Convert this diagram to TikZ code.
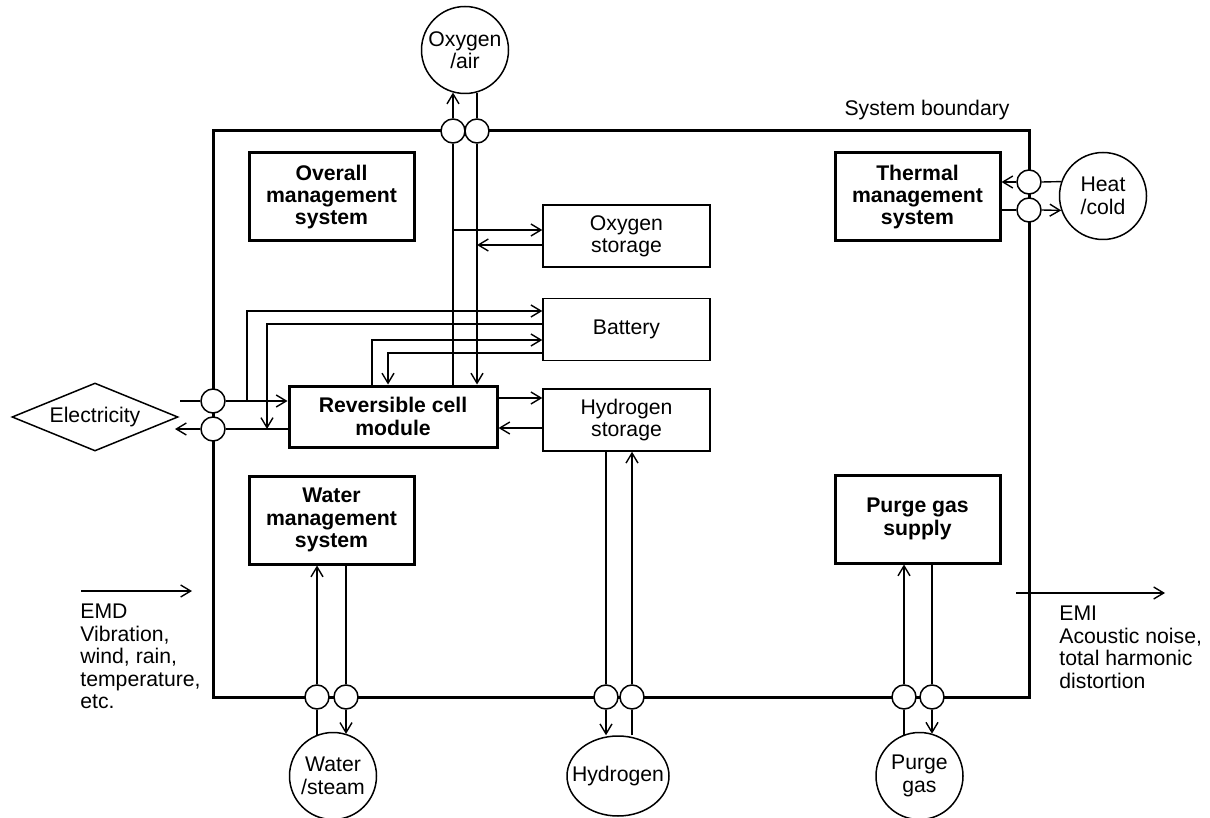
\documentclass[tikz,border=0pt]{standalone}
\usepackage{fontspec}
\setmainfont{Liberation Sans}
\usetikzlibrary{arrows.meta,positioning,shapes.geometric}

\begin{document}
\begin{tikzpicture}[
  x=0.5pt, y=-0.5pt,
  font=\fontsize{10.6}{11.2}\selectfont,
  box/.style={draw, line width=1.5pt, align=center, inner sep=2pt,
              font=\fontsize{10.6}{11.2}\selectfont\bfseries,
              minimum width=82.5pt, minimum height=44pt},
  store/.style={draw, line width=0.75pt, align=center,
                minimum width=83.5pt, minimum height=31pt},
  ext/.style={draw, circle, line width=0.75pt, align=center,
              inner sep=0pt, minimum size=43.5pt},
  port/.style={draw, circle, line width=0.75pt, fill=white,
               inner sep=0pt, minimum size=12pt},
  wire/.style={line width=0.7pt},
  arrow/.style={wire, -{Straight Barb[length=5pt,width=6pt]}}
]
\useasboundingbox (0,0) rectangle (1210,818);

% system boundary
\node[draw, line width=1.5pt, inner sep=0pt,
      minimum width=408pt, minimum height=283pt] (sys) at (621,414) {};
\node (sbl) at (927,110) {System boundary};

% blocks inside
\node[box] (oms) at (331.5,197) {Overall\\management\\system};
\node[box] (tms) at (917.5,197) {Thermal\\management\\system};
\node[box] (wms) at (331.5,520) {Water\\management\\system};
\node[box] (pgs) at (917.5,519) {Purge gas\\supply};
\node[box, minimum width=104pt, minimum height=30.5pt] (rcm) at (393,416.5)
  {Reversible cell\\module};

\node[store] (ostore) at (626.5,236) {Oxygen\\storage};
\node[store, below=15pt of ostore] (batt) {Battery};
\node[store, below=13.5pt of batt] (hstore) {Hydrogen\\storage};

% outside
\node[ext] (oxy) at (465,50) {Oxygen\\/air};
\node[ext] (heat) at (1103,196) {Heat\\/cold};
\node[ext] (water) at (333,776) {Water\\/steam};
\node[ext] (purge) at (919.5,776) {Purge\\gas};
\node[draw, ellipse, line width=0.75pt, inner xsep=-5pt,
      minimum width=51pt, minimum height=40pt] (hydro) at (618,776) {Hydrogen};
\node[draw, diamond, aspect=2.44, line width=0.75pt, inner sep=1pt,
      minimum width=83pt, minimum height=34pt] (elec) at (95,417) {Electricity};

% ports on the boundary
\foreach \n/\x/\y in {pO1/453/131, pO2/477/131, pE1/213/401, pE2/213/429,
                      pT1/1029/182, pT2/1029/210, pW1/317/697, pW2/346/697,
                      pH1/606/697, pH2/632/697, pP1/904/697, pP2/932/697}
  \node[port] (\n) at (\x,\y) {};

\coordinate (ein) at (180,401);
\coordinate (eout) at (175,429);

% oxygen
\draw[arrow] (pO1.north) -- (pO1 |- oxy.254);
\draw[wire] (rcm.north -| pO1) -- (pO1.south);
\draw[wire] (pO2 |- oxy.286) -- (pO2.north);
\draw[arrow] (pO2.south) -- (rcm.north -| pO2);
\draw[arrow] (pO1 |- 0,230) -- (ostore.west |- 0,230);
\draw[arrow] (ostore.west |- 0,245) -- (pO2 |- 0,245);

% battery
\draw[arrow] (pE1 -| 247,0) |- (batt.west |- 0,311);
\draw[arrow] (batt.west |- 0,324) -| (pE2 -| 267,0);
\draw[arrow] (rcm.north -| 372,0) |- (batt.west |- 0,340);
\draw[arrow] (batt.west |- 0,353) -| (rcm.north -| 388,0);

% electricity
\draw[wire] (ein) -- (pE1.west);
\draw[arrow] (pE1.east) -- (rcm.west |- pE1);
\draw[wire] (rcm.west |- pE2) -- (pE2.east);
\draw[arrow] (pE2.west) -- (eout);

% hydrogen
\draw[arrow] (rcm.east |- 0,398) -- (hstore.west |- 0,398);
\draw[arrow] (hstore.west |- 0,428) -- (rcm.east |- 0,428);
\draw[wire] (hstore.south -| pH1) -- (pH1.north);
\draw[arrow] (pH1.south) -- (pH1 |- hydro.north);
\draw[wire] (pH2 |- hydro.north) -- (pH2.south);
\draw[arrow] (pH2.north) -- (hstore.south -| pH2);

% water
\draw[wire] (pW1 |- water.112) -- (pW1.south);
\draw[arrow] (pW1.north) -- (wms.south -| pW1);
\draw[wire] (wms.south -| pW2) -- (pW2.north);
\draw[arrow] (pW2.south) -- (pW2 |- water.72);

% purge gas
\draw[wire] (pP1 |- purge.111) -- (pP1.south);
\draw[arrow] (pP1.north) -- (pgs.south -| pP1);
\draw[wire] (pgs.south -| pP2) -- (pP2.north);
\draw[arrow] (pP2.south) -- (pP2 |- purge.73);

% heat
\draw[wire] (heat.161) -- (pT1.east);
\draw[arrow] (pT1.west) -- (tms.east |- pT1);
\draw[wire] (tms.east |- pT2) -- (pT2.west);
\draw[arrow] (pT2.east) -- (heat.199);

% EMD / EMI
\coordinate (emd0) at (81,591);
\coordinate (emd1) at (192,591);
\draw[arrow] (emd0) -- (emd1);
\node[anchor=north west, align=left, inner sep=0pt] (emd) at (80,604)
  {EMD\\Vibration,\\wind, rain,\\temperature,\\etc.};
\coordinate (emi0) at (1016,593);
\coordinate (emi1) at (1165,593);
\draw[arrow] (emi0) -- (emi1);
\node[anchor=north west, align=left, inner sep=0pt] (emi) at (1059,606)
  {EMI\\Acoustic noise,\\total harmonic\\distortion};
\end{tikzpicture}
\end{document}
